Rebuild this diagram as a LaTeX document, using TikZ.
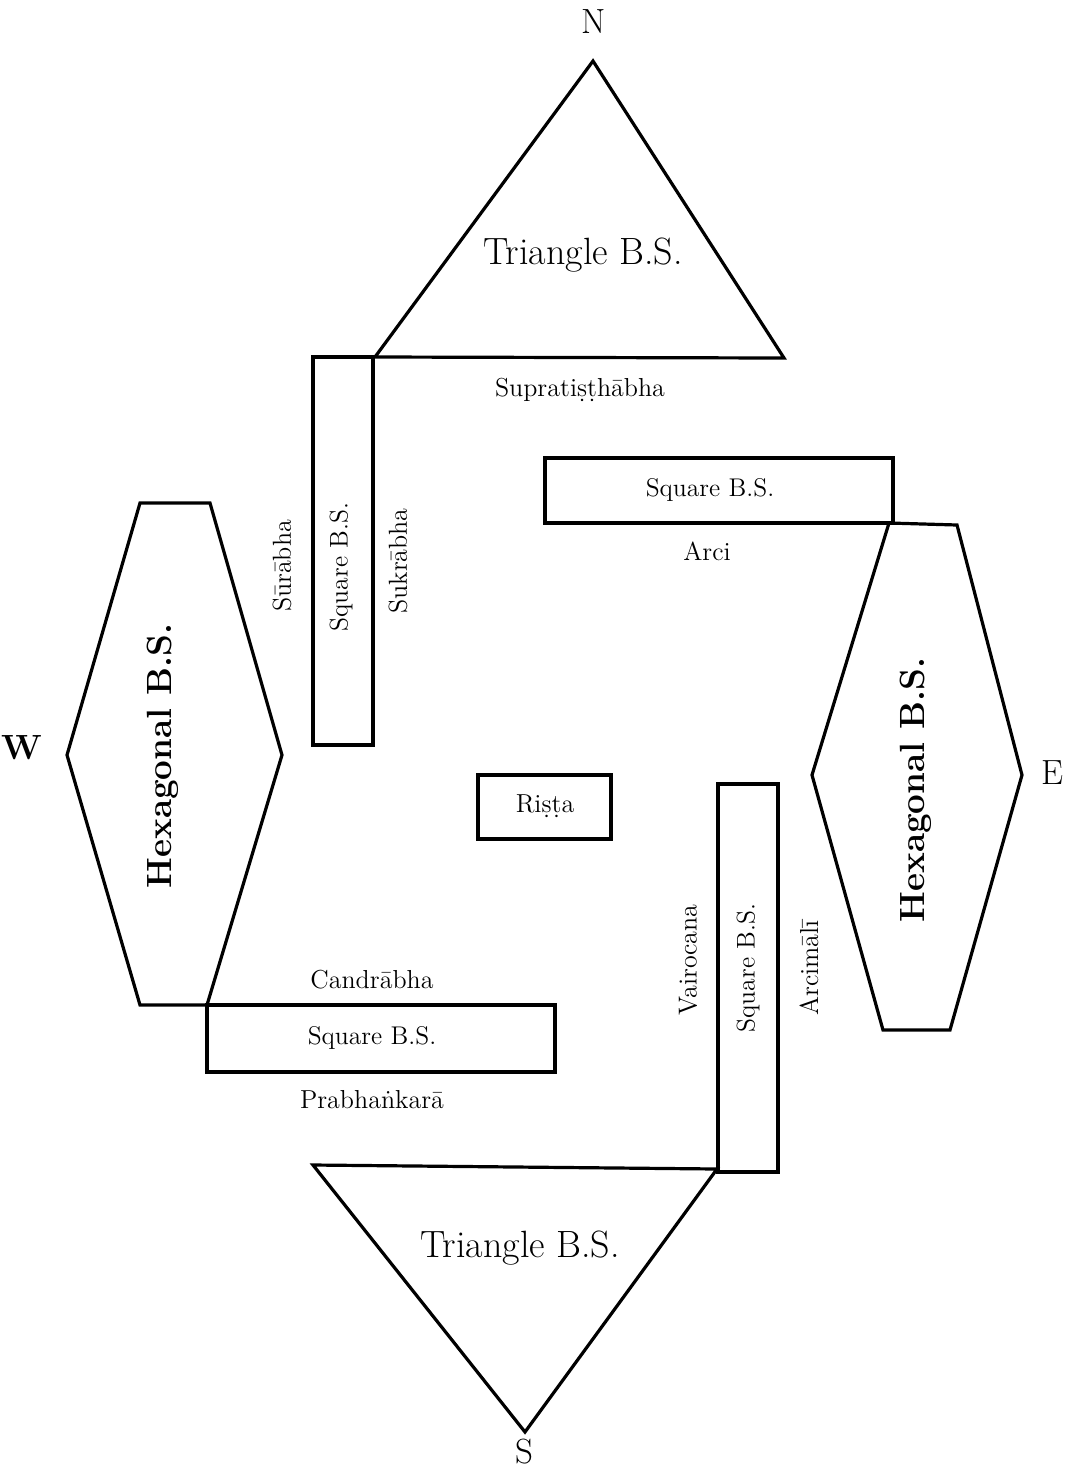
\documentclass[tikz,border=0pt]{standalone}
\begin{document}
\begin{tikzpicture}[x=0.5pt,y=-0.5pt,
  outline/.style={line width=1.6pt, line join=miter},
  lbl/.style={font=\fontsize{13}{15}\selectfont, inner sep=0pt},
  sqlbl/.style={font=\fontsize{12.8}{15}\selectfont, inner sep=0pt},
  trilbl/.style={font=\fontsize{19}{22}\selectfont, inner sep=0pt},
  hexlbl/.style={font=\fontsize{17.5}{20}\selectfont\bfseries, inner sep=0pt, rotate=90},
  dir/.style={font=\fontsize{17.5}{20}\selectfont, inner sep=0pt}]
\useasboundingbox (0,0) rectangle (1068,1469);
\fill[white] (0,0) rectangle (1068,1469);

% North triangle
\coordinate (nA) at (593,61);
\coordinate (nL) at (375,357);
\coordinate (nR) at (784,358);
\draw[outline] (nA) -- (nL) -- (nR) -- cycle;
\node[trilbl] (ntri) at (583,255) {Triangle B.S.};
\node[dir] (N) at (594,22) {N};

% left vertical square
\draw[outline] (313,357) rectangle (373,745);
\node[sqlbl, rotate=90] (sqL) at (341,567) {Square B.S.};
\node[lbl, rotate=90] (sura) at (282,566) {Sūrābha};
\node[lbl, rotate=90] (sukra) at (398,561) {Sukrābha};
\node[lbl] (supra) at (580,390) {Supratiṣṭhābha};

% upper right horizontal square
\draw[outline] (545,458) rectangle (893,523);
\node[sqlbl] (sqT) at (710,490) {Square B.S.};
\node[lbl] (arci) at (707,551) {Arci};

% east hexagon
\draw[outline] (889,523) -- (957,525) -- (1022,775) -- (950,1030) -- (883,1030) -- (812,775) -- cycle;
\node[hexlbl] (hexE) at (916,790) {Hexagonal B.S.};
\node[dir] (E) at (1052,773) {E};

% west hexagon
\draw[outline] (140,503) -- (210,503) -- (282,755) -- (207,1005) -- (140,1005) -- (67,755) -- cycle;
\node[hexlbl] (hexW) at (163,756) {Hexagonal B.S.};
\node[dir, font=\fontsize{17.5}{20}\selectfont\bfseries] (W) at (22,748) {W};

% Rista
\draw[outline] (478,775) rectangle (611,839);
\node[lbl] (rista) at (545,806) {Riṣṭa};

% bottom left horizontal square
\draw[outline] (207,1005) rectangle (555,1072);
\node[sqlbl] (sqB) at (372,1038) {Square B.S.};
\node[lbl] (candra) at (372,980) {Candrābha};
\node[lbl] (prabha) at (372,1100) {Prabhaṅkarā};

% bottom right vertical square
\draw[outline] (718,784) rectangle (778,1172);
\node[sqlbl, rotate=90] (sqR) at (748,968) {Square B.S.};
\node[lbl, rotate=90] (vairo) at (688,960) {Vairocana};
\node[lbl, rotate=90] (arcim) at (809,968) {Arcimālī};

% South triangle
\coordinate (sL) at (313,1165);
\coordinate (sR) at (717,1169);
\coordinate (sA) at (525,1432);
\draw[outline] (sL) -- (sR) -- (sA) -- cycle;
\node[trilbl] (stri) at (520,1248) {Triangle B.S.};
\node[dir] (S) at (524,1452) {S};
\end{tikzpicture}
\end{document}
